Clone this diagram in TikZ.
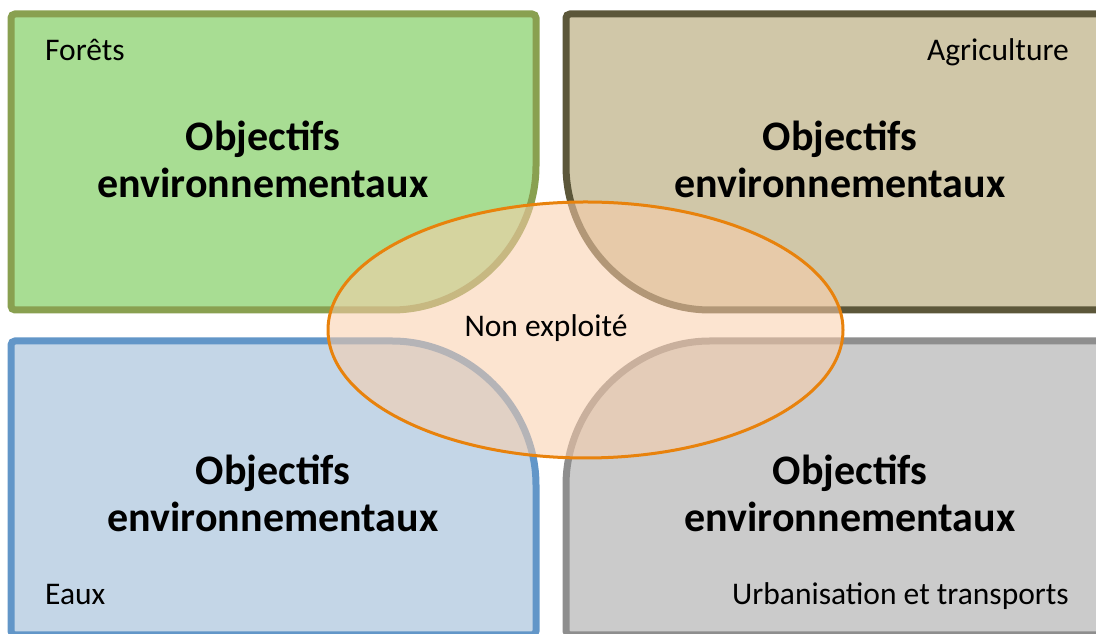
\documentclass[tikz,border=0pt]{standalone}
\usepackage{fontspec}
\setmainfont{Carlito}

\definecolor{forestfill}{RGB}{168,221,147}
\definecolor{forestline}{RGB}{137,160,80}
\definecolor{agrifill}{RGB}{208,199,168}
\definecolor{agriline}{RGB}{92,87,58}
\definecolor{waterfill}{RGB}{196,214,231}
\definecolor{waterline}{RGB}{98,150,200}
\definecolor{urbanfill}{RGB}{203,203,203}
\definecolor{urbanline}{RGB}{142,142,142}
\definecolor{idleline}{RGB}{232,130,12}
\definecolor{idlefill}{RGB}{250,205,170}

\begin{document}
\begin{tikzpicture}[x=1pt,y=1pt,
    zone/.style={line width=7pt, rounded corners=4pt},
    goal/.style={font=\fontsize{42}{47}\selectfont\bfseries, align=center, anchor=base, inner sep=0pt},
    tag/.style={font=\fontsize{31.5}{36}\selectfont, inner sep=0pt}]
    \useasboundingbox (0,0) rectangle (1096,634);

    % Four zones, big corner towards the centre
    \filldraw[zone, fill=forestfill, draw=forestline]
        (11,324) -- (11,620) -- (536,620) -- (536,472) arc[start angle=0, end angle=-90, radius=148] -- cycle;
    \filldraw[zone, fill=agrifill, draw=agriline]
        (1104,620) -- (566,620) -- (566,472) arc[start angle=180, end angle=270, radius=148] -- (1104,324) -- cycle;
    \filldraw[zone, fill=waterfill, draw=waterline]
        (11,-1) -- (11,293) -- (388,293) arc[start angle=90, end angle=0, radius=148] -- (536,-1) -- cycle;
    \filldraw[zone, fill=urbanfill, draw=urbanline]
        (566,-1) -- (566,145) arc[start angle=180, end angle=90, radius=148] -- (1104,293) -- (1104,-1) -- cycle;

    % Zone names
    \node[tag, anchor=base west] (forets) at (45,573) {Forêts};
    \node[tag, anchor=base east] (agri) at (1069,573) {Agriculture};
    \node[tag, anchor=base west] (eaux) at (45,29) {Eaux};
    \node[tag, anchor=base east] (urban) at (1069,29) {Urbanisation et transports};

    % Objectives
    \node[goal] (goalTL) at (263,436) {Objectifs\\environnementaux};
    \node[goal] (goalTR) at (840,436) {Objectifs\\environnementaux};
    \node[goal] (goalBL) at (273,102) {Objectifs\\environnementaux};
    \node[goal] (goalBR) at (850,102) {Objectifs\\environnementaux};

    % Central ellipse
    \filldraw[line width=3pt, draw=idleline, fill=idlefill, fill opacity=0.55]
        (585.5,304) ellipse [x radius=257.5, y radius=128];
    \node[tag, anchor=base] (idle) at (546,297) {Non exploité};

\end{tikzpicture}
\end{document}
